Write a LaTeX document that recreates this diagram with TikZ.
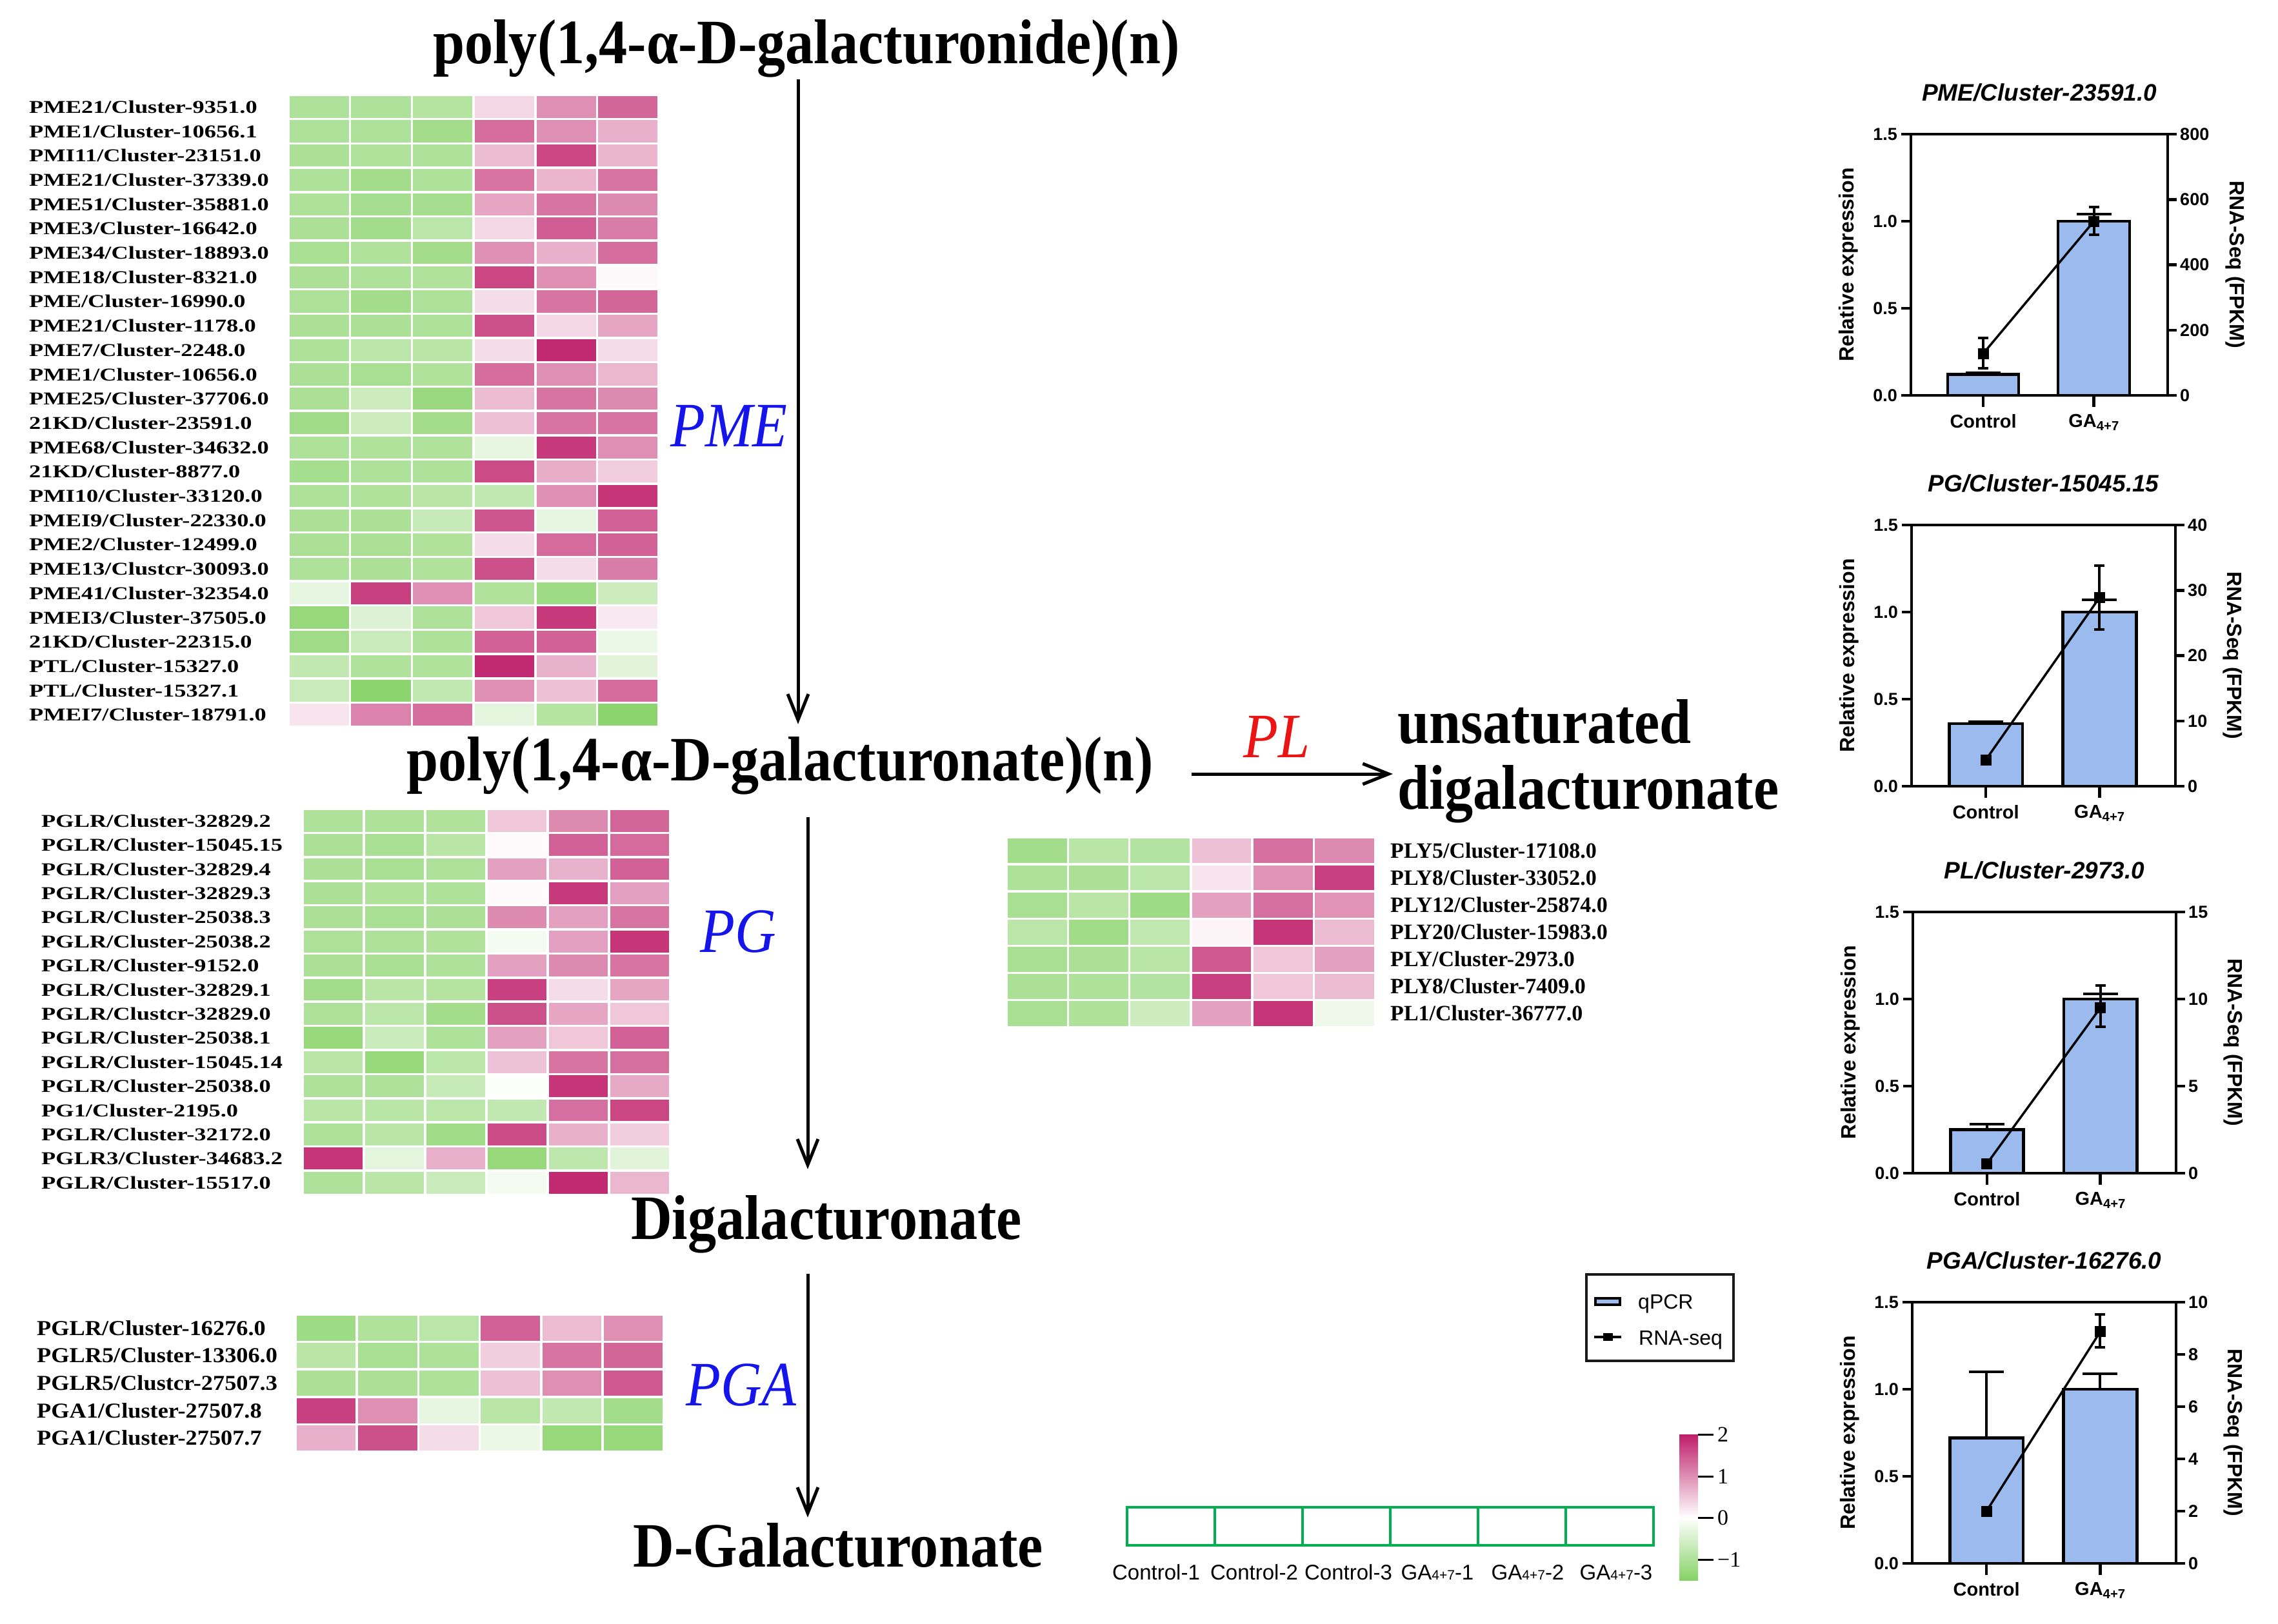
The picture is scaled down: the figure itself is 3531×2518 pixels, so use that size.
\documentclass[tikz,border=0pt]{standalone}
\usepackage{fontspec}
\setmainfont{Liberation Serif}
\newfontfamily\ttlfont[FakeStretch=0.9]{Liberation Serif}
\newfontfamily\hmAfont[FakeStretch=1.3]{Liberation Serif}
\newfontfamily\hmBfont[FakeStretch=1.1]{Liberation Serif}
\newfontfamily\hmCfont{Liberation Serif}
\newfontfamily\sansfont{Liberation Sans}
\usetikzlibrary{arrows.meta}
\definecolor{hmgrn}{RGB}{120,205,85}
\definecolor{hmmag}{RGB}{190,30,105}
\definecolor{barblue}{RGB}{155,186,238}
\definecolor{smpgreen}{RGB}{0,176,80}
\definecolor{enzblue}{RGB}{20,20,235}
\definecolor{enzred}{RGB}{235,20,20}
\tikzset{
  ttl/.style={font=\ttlfont\bfseries\fontsize{98}{100}\selectfont, inner sep=2pt},
  enz/.style={font=\ttlfont\itshape\fontsize{98}{100}\selectfont, inner sep=0pt},
  flow/.style={line width=5pt, -{Straight Barb[length=40pt,width=32pt]}},
  qbar/.style={fill=barblue, draw=black, line width=4.5pt},
  errl/.style={line width=4pt},
  rsq/.style={fill=black, minimum size=17pt, inner sep=0pt, draw=none},
  axln/.style={line width=4.5pt},
  tkl/.style={font=\sansfont\bfseries\fontsize{27}{30}\selectfont, inner sep=0pt},
  xlab/.style={font=\sansfont\bfseries\fontsize{29}{32}\selectfont, inner sep=0pt},
  ylab/.style={font=\sansfont\bfseries\fontsize{32}{34}\selectfont, inner sep=0pt},
  ctitle/.style={font=\sansfont\bfseries\itshape\fontsize{37}{40}\selectfont, inner sep=0pt},
  legt/.style={font=\sansfont\fontsize{32}{34}\selectfont, inner sep=0pt},
  smpt/.style={font=\sansfont\fontsize{33}{35}\selectfont, inner sep=0pt},
  cbl/.style={font=\hmCfont\fontsize{34}{36}\selectfont, inner sep=0pt},
  hmbox/.style={draw=white, line width=3.5pt},
}
\newcommand\smsub[1]{{\fontsize{21}{21}\selectfont #1}}
% heatmap row: #1 index, #2 name, #3 label, #4 values
\newcommand\hmrow[4]{%
  \foreach \v [count=\c from 0] in {#4}{%
    \pgfmathtruncatemacro\pp{abs(\v)}%
    \ifnum\v<0 \def\cc{hmgrn!\pp!white}\else\def\cc{hmmag!\pp!white}\fi
    \filldraw[hmbox, fill=\cc] ({\hx+\c*\hw},{\hy+#1*\hh}) rectangle ++(\hw,\hh);
  }%
  \node[anchor=base west, inner sep=0pt, font=\lfont] (#2) at (\lx,{\hy+(#1+0.5)*\hh+\loff}) {#3};
}
% chart body
\newcommand\chartbody[1]{%
\begin{scope}[shift={(\chL,\chB)},y=1pt]
  \pgfmathsetmacro\xc{0.2815*\chW}%
  \pgfmathsetmacro\xg{0.7125*\chW}%
  \pgfmathsetmacro\kk{405/\chRm}%
  \filldraw[qbar] ({0.143*\chW},0) rectangle ({0.42*\chW},{270*\chQc});
  \filldraw[qbar] ({0.573*\chW},0) rectangle ({0.852*\chW},{270*\chQg});
  \draw[errl] (\xc,{270*\chQc}) -- (\xc,{270*\chQce}) ({\xc-27},{270*\chQce}) -- ({\xc+27},{270*\chQce});
  \draw[errl] (\xg,{270*\chQg}) -- (\xg,{270*\chQge}) ({\xg-27},{270*\chQge}) -- ({\xg+27},{270*\chQge});
  \draw[errl] (\xc,{\kk*\chRcl}) -- (\xc,{\kk*\chRch}) ({\xc-8},{\kk*\chRcl}) -- ({\xc+8},{\kk*\chRcl}) ({\xc-8},{\kk*\chRch}) -- ({\xc+8},{\kk*\chRch});
  \draw[errl] (\xg,{\kk*\chRgl}) -- (\xg,{\kk*\chRgh}) ({\xg-8},{\kk*\chRgl}) -- ({\xg+8},{\kk*\chRgl}) ({\xg-8},{\kk*\chRgh}) -- ({\xg+8},{\kk*\chRgh});
  \node[rsq] (#1c) at (\xc,{\kk*\chRc}) {};
  \node[rsq] (#1g) at (\xg,{\kk*\chRg}) {};
  \draw[line width=3.5pt] (#1c.center) -- (#1g.center);
  \draw[axln] (0,0) rectangle (\chW,405);
  \foreach \v/\t [count=\i] in {0/0.0,0.5/0.5,1/1.0,1.5/1.5}{%
    \draw[axln] (0,{270*\v}) -- (-15,{270*\v});
    \node[tkl,anchor=east] (#1l\i) at (-21,{270*\v}) {\t};}
  \foreach \t [count=\i] in \chRt {%
    \draw[axln] (\chW,{\kk*\t}) -- ({\chW+14},{\kk*\t});
    \node[tkl,anchor=west] (#1r\i) at ({\chW+19},{\kk*\t}) {\t};}
  \draw[axln] (\xc,0) -- (\xc,-18) (\xg,0) -- (\xg,-18);
  \node[xlab] (#1x1) at (\xc,-40) {Control};
  \node[xlab] (#1x2) at (\xg,-42) {GA\textsubscript{4+7}};
  \node[ylab,rotate=90] (#1yl) at (-97,202.5) {Relative expression};
  \node[ylab,rotate=-90] (#1yr) at ({\chW+\chRo},202.5) {RNA-Seq (FPKM)};
  \node[ctitle] (#1t) at ({\chW/2},470) {\chTt};
\end{scope}}
\begin{document}
\begin{tikzpicture}[x=1pt,y=-1pt]
\useasboundingbox (0,0) rectangle (3531,2518);
\fill[white] (0,0) rectangle (3531,2518);

% ---------- PME heatmap ----------
\def\hx{447}\def\hy{147}\def\hw{95.7}\def\hh{37.7}\def\lx{45}\def\loff{9.5}
\def\lfont{\hmAfont\bfseries\fontsize{28}{30}\selectfont}
\hmrow{0}{pme1}{PME21/Cluster-9351.0}{-60,-60,-55,18,50,68}
\hmrow{1}{pme2}{PME1/Cluster-10656.1}{-60,-60,-68,65,50,35}
\hmrow{2}{pme3}{PMI11/Cluster-23151.0}{-62,-58,-60,30,82,33}
\hmrow{3}{pme4}{PME21/Cluster-37339.0}{-60,-68,-60,62,33,62}
\hmrow{4}{pme5}{PME51/Cluster-35881.0}{-60,-66,-66,40,62,52}
\hmrow{5}{pme6}{PME3/Cluster-16642.0}{-62,-68,-50,18,72,58}
\hmrow{6}{pme7}{PME34/Cluster-18893.0}{-64,-58,-68,50,35,65}
\hmrow{7}{pme8}{PME18/Cluster-8321.0}{-62,-60,-58,82,50,3}
\hmrow{8}{pme9}{PME/Cluster-16990.0}{-60,-68,-60,15,62,68}
\hmrow{9}{pme10}{PME21/Cluster-1178.0}{-62,-62,-60,78,18,40}
\hmrow{10}{pme11}{PME7/Cluster-2248.0}{-60,-50,-52,15,95,15}
\hmrow{11}{pme12}{PME1/Cluster-10656.0}{-62,-64,-58,65,50,32}
\hmrow{12}{pme13}{PME25/Cluster-37706.0}{-62,-38,-75,30,62,52}
\hmrow{13}{pme14}{21KD/Cluster-23591.0}{-70,-38,-68,28,62,62}
\hmrow{14}{pme15}{PME68/Cluster-34632.0}{-60,-58,-58,-18,88,50}
\hmrow{15}{pme16}{21KD/Cluster-8877.0}{-66,-60,-60,80,36,22}
\hmrow{16}{pme17}{PMI10/Cluster-33120.0}{-60,-58,-52,-45,50,90}
\hmrow{17}{pme18}{PMEI9/Cluster-22330.0}{-62,-62,-42,75,-18,70}
\hmrow{18}{pme19}{PME2/Cluster-12499.0}{-62,-62,-58,15,66,70}
\hmrow{19}{pme20}{PME13/Clustcr-30093.0}{-60,-62,-58,78,15,58}
\hmrow{20}{pme21}{PME41/Cluster-32354.0}{-18,85,50,-58,-72,-38}
\hmrow{21}{pme22}{PMEI3/Cluster-37505.0}{-78,-25,-60,25,88,10}
\hmrow{22}{pme23}{21KD/Cluster-22315.0}{-70,-40,-60,70,70,-15}
\hmrow{23}{pme24}{PTL/Cluster-15327.0}{-45,-58,-58,95,34,-22}
\hmrow{24}{pme25}{PTL/Cluster-15327.1}{-40,-85,-45,50,28,66}
\hmrow{25}{pme26}{PMEI7/Cluster-18791.0}{12,55,65,-20,-55,-85}

% ---------- PG heatmap ----------
\def\hx{469}\def\hy{1254}\def\hw{95}\def\hh{37.4}\def\lx{64}\def\loff{9.5}
\hmrow{0}{pg1}{PGLR/Cluster-32829.2}{-60,-60,-58,25,52,68}
\hmrow{1}{pg2}{PGLR/Cluster-15045.15}{-62,-64,-52,2,70,66}
\hmrow{2}{pg3}{PGLR/Cluster-32829.4}{-62,-64,-60,42,34,70}
\hmrow{3}{pg4}{PGLR/Cluster-32829.3}{-62,-58,-60,2,88,42}
\hmrow{4}{pg5}{PGLR/Cluster-25038.3}{-62,-64,-62,52,42,62}
\hmrow{5}{pg6}{PGLR/Cluster-25038.2}{-60,-60,-58,-8,42,90}
\hmrow{6}{pg7}{PGLR/Cluster-9152.0}{-62,-64,-60,42,52,62}
\hmrow{7}{pg8}{PGLR/Cluster-32829.1}{-68,-52,-55,85,15,40}
\hmrow{8}{pg9}{PGLR/Clustcr-32829.0}{-60,-50,-68,78,40,25}
\hmrow{9}{pg10}{PGLR/Cluster-25038.1}{-78,-40,-60,42,25,70}
\hmrow{10}{pg11}{PGLR/Cluster-15045.14}{-52,-78,-50,27,62,64}
\hmrow{11}{pg12}{PGLR/Cluster-25038.0}{-60,-60,-42,-3,90,38}
\hmrow{12}{pg13}{PG1/Cluster-2195.0}{-52,-52,-50,-46,64,82}
\hmrow{13}{pg14}{PGLR/Cluster-32172.0}{-60,-52,-70,80,35,22}
\hmrow{14}{pg15}{PGLR3/Cluster-34683.2}{90,-20,35,-78,-48,-22}
\hmrow{15}{pg16}{PGLR/Cluster-15517.0}{-60,-52,-40,-8,95,32}

% ---------- PGA heatmap ----------
\def\hx{458}\def\hy{2038}\def\hw{95.2}\def\hh{42.6}\def\lx{57}\def\loff{11}
\def\lfont{\hmBfont\bfseries\fontsize{33}{35}\selectfont}
\hmrow{0}{pga1}{PGLR/Cluster-16276.0}{-72,-58,-50,70,30,50}
\hmrow{1}{pga2}{PGLR5/Cluster-13306.0}{-52,-64,-60,22,62,68}
\hmrow{2}{pga3}{PGLR5/Clustcr-27507.3}{-62,-62,-60,28,50,74}
\hmrow{3}{pga4}{PGA1/Cluster-27507.8}{85,50,-18,-52,-46,-68}
\hmrow{4}{pga5}{PGA1/Cluster-27507.7}{35,78,15,-15,-78,-78}

% ---------- PL heatmap ----------
\def\hx{1560}\def\hy{1298}\def\hw{95.3}\def\hh{42.1}\def\lx{2155}\def\loff{11}
\def\lfont{\hmCfont\bfseries\fontsize{34}{36}\selectfont}
\hmrow{0}{pl1}{PLY5/Cluster-17108.0}{-68,-52,-56,28,64,52}
\hmrow{1}{pl2}{PLY8/Cluster-33052.0}{-60,-62,-50,12,48,85}
\hmrow{2}{pl3}{PLY12/Cluster-25874.0}{-64,-52,-72,42,64,48}
\hmrow{3}{pl4}{PLY20/Cluster-15983.0}{-50,-70,-45,5,90,30}
\hmrow{4}{pl5}{PLY/Cluster-2973.0}{-64,-62,-52,74,25,42}
\hmrow{5}{pl6}{PLY8/Cluster-7409.0}{-62,-60,-56,85,25,30}
\hmrow{6}{pl7}{PL1/Cluster-36777.0}{-64,-60,-38,42,90,-12}

% ---------- pathway titles ----------
\node[ttl, anchor=base] (t1) at (1250,99) {poly(1,4-α-D-galacturonide)(n)};
\node[ttl, anchor=base] (t2) at (1209,1210) {poly(1,4-α-D-galacturonate)(n)};
\node[ttl, anchor=base] (t3) at (1281,1921) {Digalacturonate};
\node[ttl, anchor=base] (t4) at (1299,2429) {D-Galacturonate};
\node[ttl, anchor=base west] (t5a) at (2164,1152) {unsaturated};
\node[ttl, anchor=base west] (t5b) at (2164,1254) {digalacturonate};

\coordinate (ax1) at (1237,0);
\coordinate (ax2) at (1252,0);
\coordinate (ay) at (0,1200);
\draw[flow, shorten >=17pt] (t1.south -| ax1) -- (t2.north -| ax1);
\draw[flow, shorten <=33pt, shorten >=38pt] (t2.south -| ax2) -- (t3.north -| ax2);
\draw[flow, shorten <=30pt, shorten >=6pt] (t3.south -| ax2) -- (t4.north -| ax2);
\draw[flow, shorten <=57pt, shorten >=5pt] (t2.east |- ay) -- (t5a.west |- ay);

\node[enz, text=enzblue] (ePME) at (1130,660) {PME};
\node[enz, text=enzblue] (ePG) at (1144,1444) {PG};
\node[enz, text=enzblue] (ePGA) at (1149,2147) {PGA};
\node[enz, text=enzred] (ePL) at (1979,1142) {PL};

% ---------- charts ----------
\def\chL{2962}\def\chB{613}\def\chW{398}\def\chRo{105}\def\chTt{PME/Cluster-23591.0}
\def\chRm{800}\def\chRt{0,200,400,600,800}
\def\chQc{0.12}\def\chQce{0.13}\def\chQg{1.0}\def\chQge{1.04}
\def\chRc{128}\def\chRcl{83}\def\chRch{176}\def\chRg{533}\def\chRgl{491}\def\chRgh{576}
\chartbody{ca}

\def\chL{2963}\def\chB{1219}\def\chW{409}\def\chRo{89}\def\chTt{PG/Cluster-15045.15}
\def\chRm{40}\def\chRt{0,10,20,30,40}
\def\chQc{0.36}\def\chQce{0.37}\def\chQg{1.0}\def\chQge{1.07}
\def\chRc{4.05}\def\chRcl{4.05}\def\chRch{4.05}\def\chRg{28.9}\def\chRgl{24.0}\def\chRgh{33.8}
\chartbody{cb}

\def\chL{2965}\def\chB{1819}\def\chW{408}\def\chRo{89}\def\chTt{PL/Cluster-2973.0}
\def\chRm{15}\def\chRt{0,5,10,15}
\def\chQc{0.25}\def\chQce{0.28}\def\chQg{1.0}\def\chQge{1.03}
\def\chRc{0.55}\def\chRcl{0.55}\def\chRch{0.55}\def\chRg{9.5}\def\chRgl{8.4}\def\chRgh{10.76}
\chartbody{cc}

\def\chL{2964}\def\chB{2424}\def\chW{409}\def\chRo{89}\def\chTt{PGA/Cluster-16276.0}
\def\chRm{10}\def\chRt{0,2,4,6,8,10}
\def\chQc{0.72}\def\chQce{1.10}\def\chQg{1.0}\def\chQge{1.09}
\def\chRc{2.0}\def\chRcl{2.0}\def\chRch{2.0}\def\chRg{8.87}\def\chRgl{8.27}\def\chRgh{9.53}
\chartbody{cd}

% ---------- legend ----------
\node[draw=black!90, line width=4pt, minimum width=228pt, minimum height=134pt, inner sep=0pt] (leg) at (2573,2043) {};
\node[draw=black, fill=barblue, line width=4pt, minimum width=38pt, minimum height=10pt, inner sep=0pt] (legq) at (2492,2018) {};
\node[legt, anchor=base west] (legqt) at (2539,2029) {qPCR};
\coordinate (legl1) at (2471,2073);
\coordinate (legl2) at (2513,2073);
\draw[line width=4pt] (legl1) -- (legl2);
\node[fill=black, minimum width=15pt, minimum height=12pt, inner sep=0pt] (legs) at (2492,2073) {};
\node[legt, anchor=base west] (legrt) at (2540,2085) {RNA-seq};

% ---------- sample boxes ----------
\foreach \i in {0,...,5}
  \node[draw=smpgreen, line width=4.5pt, minimum width=136pt, minimum height=59pt, inner sep=0pt] (smp\i) at ({1815+136*\i},2366.5) {};
\foreach \x/\t [count=\i] in {1792/Control-1,1944/Control-2,2090/Control-3,2228/GA\smsub{4+7}-1,2368/GA\smsub{4+7}-2,2505/GA\smsub{4+7}-3}
  \node[smpt, anchor=base] (smpt\i) at (\x,2449) {\t};

% ---------- colour bar ----------
\shade[top color=hmmag, bottom color=white] (2603,2224) rectangle (2632,2353);
\shade[top color=white, bottom color=hmgrn!90!white] (2603,2353) rectangle (2632,2450);
\foreach \y/\t [count=\i] in {2224/2,2289/1,2353/0,2418/−1}{
  \draw[line width=3pt] (2632,\y) -- (2656,\y);
  \node[cbl, anchor=west] (cb\i) at (2662,\y) {\t};}
\end{tikzpicture}
\end{document}
